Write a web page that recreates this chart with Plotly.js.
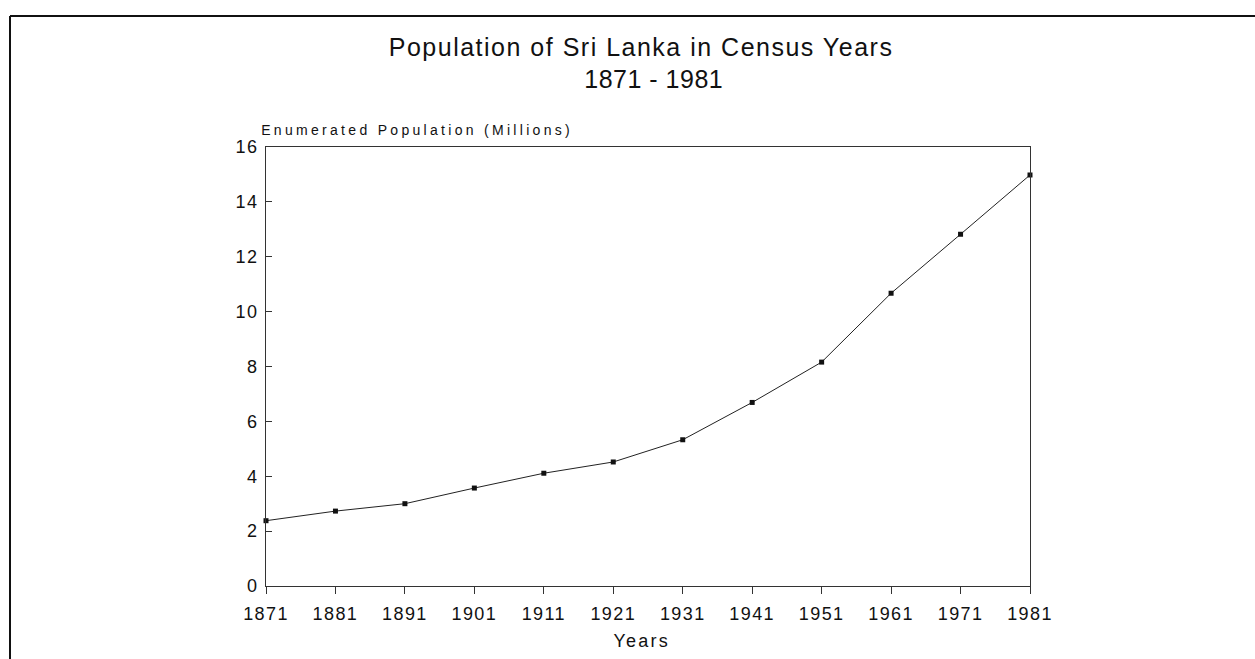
<!DOCTYPE html>
<html>
<head>
<meta charset="utf-8">
<script src="https://cdn.plot.ly/plotly-3.0.1.min.js"></script>
<style>
html,body{margin:0;padding:0;background:#fff;}
#chart{width:1255px;height:659px;}
#chart .xtick text{letter-spacing:1.4px;}
#chart .ytick text{letter-spacing:1.4px;}
#chart .annotation-text.ttl{letter-spacing:1.5px;}
#chart .annotation-text.sub{letter-spacing:0.5px;}
#chart .annotation-text.ytl{letter-spacing:3.3px;}
#chart .annotation-text.xtl{letter-spacing:2.2px;}
</style>
</head>
<body>
<div id="chart"></div>
<script>
const years = [1871, 1881, 1891, 1901, 1911, 1921, 1931, 1941, 1951, 1961, 1971, 1981];
const population = [2.38, 2.73, 3.0, 3.57, 4.11, 4.52, 5.33, 6.69, 8.16, 10.67, 12.82, 14.98];
const yTicks = [0, 2, 4, 6, 8, 10, 12, 14, 16];
const titleLine1 = 'Population of Sri Lanka in Census Years';
const titleLine2 = '1871 - 1981';
const yTitle = 'Enumerated Population (Millions)';
const xTitle = 'Years';

const W = 1255, H = 659;
const L = 266, R = 1030, T = 147, B = 586;
const pw = R - L, ph = B - T;
const px = x => (x - L) / pw;
const py = y => (B - y) / ph;

const trace = {
  x: years, y: population, type: 'scatter', mode: 'lines+markers',
  line: {color: '#222', width: 1},
  marker: {symbol: 'square', size: 5, color: '#111'},
  cliponaxis: false, hoverinfo: 'skip'
};

const ann = (text, x, y, size, cls) => ({
  text: text, xref: 'paper', yref: 'paper', x: px(x), y: py(y),
  xanchor: 'center', yanchor: 'middle', showarrow: false,
  font: {size: size, color: '#111'}, _cls: cls
});

const annotations = [
  ann(titleLine1, 641, 47, 25, 'ttl'),
  ann(titleLine2, 653, 79, 25, 'sub'),
  ann(yTitle, 417, 130, 14, 'ytl'),
  ann(xTitle, 641, 641, 18, 'xtl')
];
const classes = annotations.map(a => a._cls);
annotations.forEach(a => delete a._cls);

const layout = {
  width: W, height: H,
  margin: {l: L, r: W - R, t: T, b: H - B},
  paper_bgcolor: '#fff', plot_bgcolor: '#fff',
  showlegend: false,
  font: {family: 'Liberation Sans, Arial, sans-serif', color: '#111'},
  xaxis: {
    range: [1871, 1981], tickvals: years, ticktext: years.map(String),
    showgrid: false, zeroline: false, showline: true, linecolor: '#333', linewidth: 1,
    mirror: true, ticks: 'outside', ticklen: 7, tickcolor: '#333',
    ticklabelstandoff: 4,
    tickfont: {size: 18, color: '#111'}
  },
  yaxis: {
    range: [0, 16], tickvals: yTicks,
    showgrid: false, zeroline: false, showline: true, linecolor: '#333', linewidth: 1,
    mirror: true, ticks: 'inside', ticklen: 6, tickcolor: '#333',
    ticklabelstandoff: 3,
    tickfont: {size: 18, color: '#111'}
  },
  annotations: annotations,
  shapes: [
    {type: 'line', xref: 'paper', yref: 'paper', x0: px(10), x1: px(1255), y0: py(16), y1: py(16),
     line: {color: '#111', width: 2}},
    {type: 'line', xref: 'paper', yref: 'paper', x0: px(10), x1: px(10), y0: py(16), y1: py(659),
     line: {color: '#111', width: 2}}
  ]
};

Plotly.newPlot('chart', [trace], layout, {displayModeBar: false, staticPlot: true}).then(gd => {
  gd.querySelectorAll('.annotation').forEach((g, i) => {
    const t = g.querySelector('.annotation-text');
    if (t && classes[i]) t.classList.add(classes[i]);
  });
});
</script>
</body>
</html>
